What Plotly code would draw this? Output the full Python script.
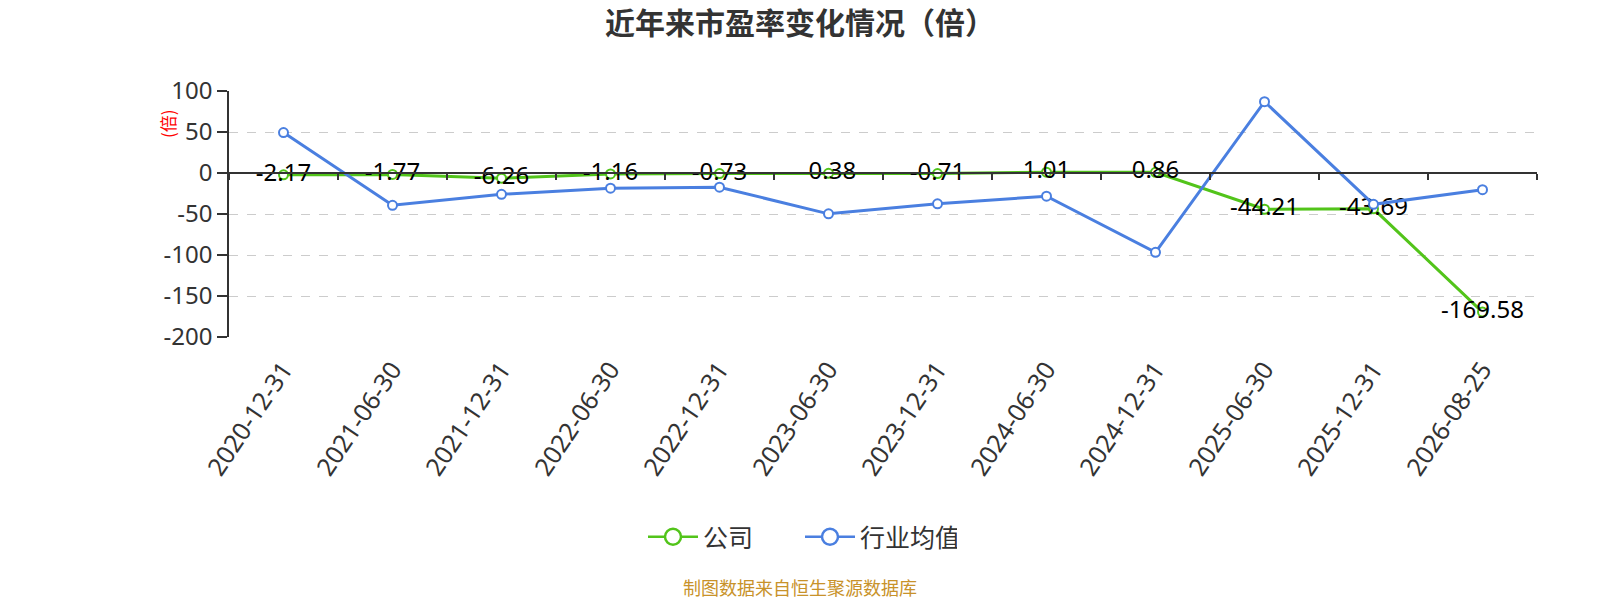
import plotly.graph_objects as go

# report dates on the category axis
dates = [
    "2020-12-31", "2021-06-30", "2021-12-31", "2022-06-30",
    "2022-12-31", "2023-06-30", "2023-12-31", "2024-06-30",
    "2024-12-31", "2025-06-30", "2025-12-31", "2026-08-25",
]
# P/E of the company (labelled on the chart)
company_pe = [-2.17, -1.77, -6.26, -1.16, -0.73, -0.38, -0.71, 1.01, 0.86, -44.21, -43.69, -169.58]
# industry average P/E
industry_pe = [49.3, -39.4, -26.0, -18.5, -17.3, -49.8, -37.6, -28.3, -96.7, 87.0, -38.2, -20.3]

y_ticks = [100, 50, 0, -50, -100, -150, -200]

GREEN = "#52c41a"
BLUE = "#4a7fe0"
FONT = "Noto Sans, Noto Sans CJK SC, sans-serif"
CJK = "Noto Sans CJK SC"

W, H = 1600, 600
L, R, T, B = 229, 63, 91, 263
y_lo, y_hi = -200, 100
plot_h = H - T - B
plot_w = W - L - R


def py(px_from_top):
    """pixel row -> paper y"""
    return (H - B - px_from_top) / plot_h


def px(px_from_left):
    """pixel column -> paper x"""
    return (px_from_left - L) / plot_w


fig = go.Figure()

fig.add_trace(go.Scatter(
    x=dates, y=company_pe, name="公司", showlegend=False,
    mode="lines+markers+text",
    text=[f"{v:.2f}" for v in company_pe],
    textposition="middle center",
    textfont=dict(size=24, color="#000000", family=FONT),
    line=dict(color=GREEN, width=3),
    marker=dict(symbol="circle", size=9, color="white", line=dict(color=GREEN, width=2)),
    hoverinfo="x+y",
))
fig.add_trace(go.Scatter(
    x=dates, y=industry_pe, name="行业均值", showlegend=False,
    mode="lines+markers",
    line=dict(color=BLUE, width=3),
    marker=dict(symbol="circle", size=9, color="white", line=dict(color=BLUE, width=2)),
    hoverinfo="x+y",
))
# legend entries with the larger echarts-style icons
for name, col in (("公司", GREEN), ("行业均值", BLUE)):
    fig.add_trace(go.Scatter(
        x=[dates[0]], y=[None], name=name, mode="lines+markers",
        line=dict(color=col, width=2.5),
        marker=dict(symbol="circle", size=20, color="white", line=dict(color=col, width=2.5)),
        hoverinfo="skip",
    ))
# carrier for the axis drawn through zero
fig.add_trace(go.Scatter(
    x=dates, y=[None] * len(dates), xaxis="x2",
    showlegend=False, hoverinfo="skip", mode="lines",
))

zero_pos = (0 - y_lo) / (y_hi - y_lo)

fig.update_layout(
    width=W, height=H,
    margin=dict(l=L, r=R, t=T, b=B),
    plot_bgcolor="white", paper_bgcolor="white",
    font=dict(family=FONT, color="#333333"),
    title=dict(
        text="近年来市盈率变化情况（倍）",
        x=0.5, xanchor="center", xref="container",
        y=1 - 23 / H, yanchor="middle", yref="container",
        font=dict(size=30, color="#333333", family=CJK, weight="bold"),
    ),
    xaxis=dict(
        type="category", range=[-0.5, len(dates) - 0.5],
        showline=False, showgrid=False, zeroline=False, ticks="",
        tickangle=-56, ticklabelstandoff=12,
        tickfont=dict(size=25, color="#333333"),
    ),
    xaxis2=dict(
        type="category", overlaying="x", matches="x",
        anchor="free", position=zero_pos,
        showline=True, linecolor="#333333", linewidth=1.5,
        ticks="outside", ticklen=6, tickcolor="#333333", tickwidth=1.5,
        tickson="boundaries", showticklabels=False, showgrid=False,
    ),
    yaxis=dict(
        range=[y_lo, y_hi], tickvals=y_ticks,
        ticktext=[str(v) for v in y_ticks],
        showline=True, linecolor="#333333", linewidth=1.5,
        ticks="outside", ticklen=10, tickcolor="#333333", tickwidth=1.5,
        showgrid=True, gridcolor="#cccccc", griddash="dash", gridwidth=1.2,
        zeroline=False,
        tickfont=dict(size=24, color="#333333"),
    ),
    legend=dict(
        orientation="h", x=0.5 - (L - R) / 2 / plot_w, xanchor="center",
        y=py(537), yanchor="middle",
        font=dict(size=25, color="#333333", family=CJK),
        itemwidth=50, entrywidth=92,
    ),
    annotations=[
        dict(
            text="(倍)", textangle=-90, showarrow=False,
            xref="paper", yref="paper",
            x=px(167), y=py(124), xanchor="center", yanchor="middle",
            font=dict(size=17, color="#ff0000", family=CJK),
        ),
        dict(
            text="制图数据来自恒生聚源数据库", showarrow=False,
            xref="paper", yref="paper",
            x=px(800), y=py(587),
            xanchor="center", yanchor="middle",
            font=dict(size=18, color="#c8922a", family=CJK),
        ),
    ],
)

fig.write_html(
    "out.html",
    config={"displayModeBar": False},
    post_script="document.body.style.margin='0';document.body.style.overflow='hidden';",
)
